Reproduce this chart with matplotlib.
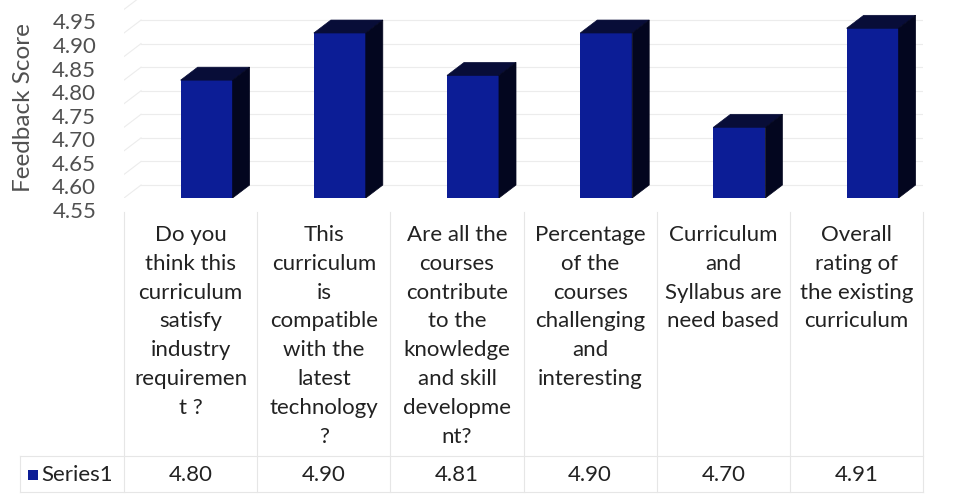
import numpy as np
import matplotlib
matplotlib.use("Agg")
import matplotlib.pyplot as plt
from matplotlib.patches import Polygon
from matplotlib.transforms import ScaledTranslation

categories = [
    "Do you\nthink this\ncurriculum\nsatisfy\nindustry\nrequiremen\nt ?",
    "This\ncurriculum\nis\ncompatible\nwith the\nlatest\ntechnology\n?",
    "Are all the\ncourses\ncontribute\nto the\nknowledge\nand skill\ndevelopme\nnt?",
    "Percentage\nof the\ncourses\nchallenging\nand\ninteresting",
    "Curriculum\nand\nSyllabus are\nneed based",
    "Overall\nrating of\nthe existing\ncurriculum",
]
series_name = "Series1"
values = [4.80, 4.90, 4.81, 4.90, 4.70, 4.91]
y_ticks = [4.55, 4.60, 4.65, 4.70, 4.75, 4.80, 4.85, 4.90, 4.95]

W, H = 969, 495
FONT = "Lato"
plt.rcParams["font.family"] = [FONT, "DejaVu Sans"]

fig = plt.figure(figsize=(W / 100, H / 100), dpi=100)

def fx(px):
    return px / W

def fy(py):
    return 1 - py / H

col_left, col_w = 124, 133.2
ax = fig.add_axes([fx(col_left), fy(198), fx(col_w * 6), 198 / H])
base = 4.55
ax.set_xlim(-0.5, 5.5)
ax.set_ylim(base, 4.97)

front = "#0c1d96"
side = "#03061f"
top = "#080d38"
off = 0.12
bw = 0.39
ddx = 0.128
ddy = 0.0275

x = np.arange(len(values))
# faint back-wall gridlines
for t in y_ticks:
    ax.plot([-0.5 + ddx, 5.5], [t + ddy, t + ddy], color="#ececec", lw=0.8, zorder=0)
    ax.plot([-0.5, -0.5 + ddx], [t, t + ddy], color="#ececec", lw=0.8, zorder=0)

vals = np.array(values)
ax.bar(x + off, vals - base, bottom=base, width=bw, color=front, zorder=3, linewidth=0)
for xi, v in zip(x, vals):
    l = xi + off - bw / 2
    r = xi + off + bw / 2
    ax.add_patch(Polygon([[l, v], [r, v], [r + ddx, v + ddy], [l + ddx, v + ddy]],
                         closed=True, facecolor=top, edgecolor=top, lw=0.5, zorder=3))
    ax.add_patch(Polygon([[r, base], [r, v], [r + ddx, v + ddy], [r + ddx, base + ddy]],
                         closed=True, facecolor=side, edgecolor=side, lw=0.5, zorder=3))

ax.set_yticks(y_ticks)
ax.set_yticklabels([f"{t:.2f}" for t in y_ticks])
ax.tick_params(axis="y", length=0, pad=20, labelsize=16, labelcolor="#505050")
shift = ScaledTranslation(0, -12 / 100, fig.dpi_scale_trans)
for lab in ax.get_yticklabels():
    lab.set_transform(lab.get_transform() + shift)
ax.set_xticks([])
for s in ax.spines.values():
    s.set_visible(False)
ax.patch.set_alpha(0)

fig.text(fx(24), fy(108), "Feedback Score", rotation=90, ha="center", va="center",
         fontsize=17.5, color="#505050")

# data table
grid_c = "#e6e6e6"
for i in range(7):
    xp = col_left + col_w * i
    fig.add_artist(plt.Line2D([fx(xp), fx(xp)], [fy(212), fy(492)], color=grid_c, lw=0.8))
fig.add_artist(plt.Line2D([fx(20), fx(col_left + col_w * 6)], [fy(456), fy(456)], color=grid_c, lw=0.8))
fig.add_artist(plt.Line2D([fx(20), fx(20)], [fy(456), fy(492)], color=grid_c, lw=0.8))
fig.add_artist(plt.Line2D([fx(20), fx(col_left + col_w * 6)], [fy(492), fy(492)], color=grid_c, lw=0.8))

for i, (cat, v) in enumerate(zip(categories, values)):
    cx = col_left + col_w * (i + 0.5)
    fig.text(fx(cx), fy(225), cat, ha="center", va="top", fontsize=16,
             color="#222222", linespacing=1.55)
    fig.text(fx(cx), fy(475), f"{v:.2f}", ha="center", va="center", fontsize=16,
             color="#222222")

fig.add_artist(plt.Rectangle((fx(28), fy(480)), fx(10), 10 / H, facecolor=front,
                             edgecolor="none", transform=fig.transFigure))
fig.text(fx(41), fy(475), series_name, ha="left", va="center", fontsize=16, color="#222222")

fig.savefig("out.png", dpi=100)
